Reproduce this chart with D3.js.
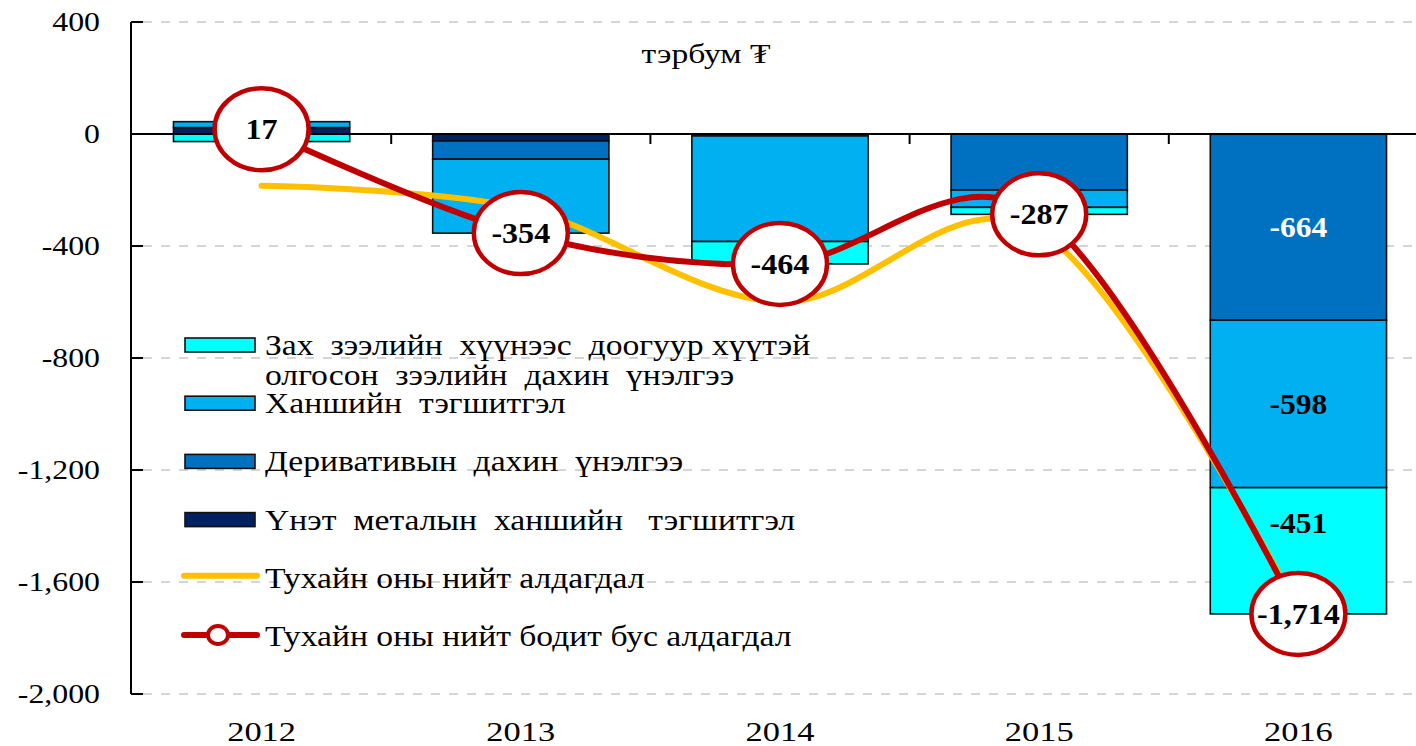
<!DOCTYPE html>
<html><head><meta charset="utf-8">
<script src="https://cdn.jsdelivr.net/npm/d3@7"></script>
<style>
html,body{margin:0;padding:0;background:#fff;}
svg text{font-family:"Liberation Serif","Times New Roman",serif;}
</style></head>
<body><svg id="c" width="1416" height="746"></svg>
<script>
// ---- data ----
const years = ["2012","2013","2014","2015","2016"];
const metalFx = [23, -25, -4, 0, -1];           // Үнэт металын ханшийн тэгшитгэл
const derivReval = [0, -65, -3, -200, -664];     // Деривативын дахин үнэлгээ
const fxEqual = [21, -264, -377, -62, -598];     // Ханшийн тэгшитгэл
const loanReval = [-27, 0, -80, -25, -451];      // Зах зээлийн хүүнээс доогуур хүүтэй олгосон зээлийн дахин үнэлгээ
const totalLoss = [-185, -265, -600, -345, -1700];     // Тухайн оны нийт алдагдал
const unrealLoss = [17, -354, -464, -287, -1714];      // Тухайн оны нийт бодит бус алдагдал
const yTicks = [400, 0, -400, -800, -1200, -1600, -2000];
const insideLabelKeys2016 = ["deriv","fx","loan"];
const insideLabelValues2016 = [-664, -598, -451];
const legendLabels = [
  ["Зах  зээлийн  хүүнээс  доогуур хүүтэй","олгосон  зээлийн  дахин  үнэлгээ"],
  ["Ханшийн  тэгшитгэл"],
  ["Деривативын  дахин  үнэлгээ"],
  ["Үнэт  металын  ханшийн   тэгшитгэл"],
  ["Тухайн оны нийт алдагдал"],
  ["Тухайн оны нийт бодит бус алдагдал"]
];
const unitLabel = "тэрбум ₮";

// ---- setup ----
const colors = {loan:"#00FFFF", fx:"#00B0F0", deriv:"#0070C0", metal:"#002060"};
const keys = ["metal","deriv","fx","loan"];
const table = years.map((y,i)=>({year:y, metal:metalFx[i], deriv:derivReval[i], fx:fxEqual[i], loan:loanReval[i]}));

const svg = d3.select("#c");
const x = d3.scaleBand().domain(years).range([132, 1428]).padding(0);
const y = d3.scaleLinear().domain([-2000, 400]).range([694, 22]);
const axisX = 131;
const barW = x.bandwidth()*0.68;
const cx = d => x(d) + x.bandwidth()/2;
const fmt0 = d3.format(",");
const fmt = v => fmt0(v).replace(/\u2212/g, "-");

function stretchText(g, px, py, str, opts){
  return g.append("text")
    .attr("transform", `translate(${px},${py}) scale(${opts.sx||1},1)`)
    .attr("text-anchor", opts.anchor||"start")
    .attr("font-size", opts.size)
    .attr("font-weight", opts.weight||"normal")
    .attr("fill", opts.fill||"#000")
    .style("white-space","pre")
    .text(str);
}

// gridlines
svg.append("g").selectAll("line").data(yTicks.filter(v=>v!==0)).join("line")
  .attr("x1", axisX+12).attr("x2", 1416)
  .attr("y1", d=>y(d)).attr("y2", d=>y(d))
  .attr("stroke","#c8c8c8").attr("stroke-width",1.5).attr("stroke-dasharray","9,9");

// stacked bars
const series = d3.stack().keys(keys).offset(d3.stackOffsetDiverging)(table);
svg.append("g").selectAll("g").data(series).join("g")
  .attr("fill", s=>colors[s.key])
  .selectAll("rect").data(s=>s.filter(d=>d[1]!==d[0])).join("rect")
  .attr("x", d=>cx(d.data.year)-barW/2)
  .attr("width", barW)
  .attr("y", d=>y(Math.max(d[0],d[1])))
  .attr("height", d=>Math.abs(y(d[0])-y(d[1])))
  .attr("stroke","#111").attr("stroke-width",1.6);

// y axis
const yAxis = svg.append("g");
yAxis.append("line").attr("x1",axisX).attr("x2",axisX).attr("y1",y(400)).attr("y2",y(-2000)).attr("stroke","#000").attr("stroke-width",2);
yAxis.selectAll("line.tk").data(yTicks).join("line").attr("class","tk")
  .attr("x1",axisX).attr("x2",axisX+12).attr("y1",d=>y(d)).attr("y2",d=>y(d)).attr("stroke","#000").attr("stroke-width",2);
yTicks.forEach(v=>{
  stretchText(svg, 100, y(v)+9, fmt(v), {anchor:"end", size:26.5, sx:1.2});
});

// zero line (x axis) with category ticks
svg.append("line").attr("x1",axisX).attr("x2",1416).attr("y1",y(0)).attr("y2",y(0)).attr("stroke","#000").attr("stroke-width",2);
svg.append("g").selectAll("line").data(years.slice(1)).join("line")
  .attr("x1",d=>x(d)).attr("x2",d=>x(d)).attr("y1",y(0)).attr("y2",y(0)+10).attr("stroke","#000").attr("stroke-width",2);

// x labels
years.forEach(yr=>{
  stretchText(svg, cx(yr), 741, yr, {anchor:"middle", size:26.5, sx:1.3});
});

// unit label
stretchText(svg, 706, 63, unitLabel, {anchor:"middle", size:28, sx:1.2});

// lines
const curve = d3.curveCardinal.tension(0);
const line = d3.line().x((d,i)=>cx(years[i])).y(d=>y(d)).curve(curve);
svg.append("path").datum(totalLoss).attr("d", line).attr("fill","none").attr("stroke","#FFC000").attr("stroke-width",6).attr("stroke-linecap","round");
svg.append("path").datum(unrealLoss).attr("d", line).attr("fill","none").attr("stroke","#C00000").attr("stroke-width",6).attr("stroke-linecap","round");

// 2016 inside labels
const s2016 = series.map(s=>({key:s.key, seg:s[4]}));
insideLabelKeys2016.forEach((k,i)=>{
  const seg = s2016.find(s=>s.key===k).seg;
  const mid = (seg[0]+seg[1])/2;
  const shift = k==="loan" ? -28 : 0;
  stretchText(svg, cx("2016"), y(mid)+10+shift, fmt(insideLabelValues2016[i]), {anchor:"middle", size:30, weight:"bold", sx:1.05, fill: k==="deriv" ? "#fff" : "#000"});
});

// circle markers with labels
years.forEach((yr,i)=>{
  svg.append("ellipse").attr("cx",cx(yr)).attr("cy",y(unrealLoss[i])).attr("rx",47).attr("ry",41)
    .attr("fill","#fff").attr("stroke","#C00000").attr("stroke-width",4.5);
  stretchText(svg, cx(yr), y(unrealLoss[i])+10, fmt(unrealLoss[i]), {anchor:"middle", size:30, weight:"bold", sx:1.07});
});

// legend
const lg = svg.append("g");
const legendTypes = ["loan","fx","deriv","metal","yellow","red"];
legendLabels.forEach((lines,i)=>{
  const cy = 345 + i*58.2;
  const t = legendTypes[i];
  if (colors[t]) {
    lg.append("rect").attr("x",185).attr("y",cy-7).attr("width",70).attr("height",14)
      .attr("fill",colors[t]).attr("stroke","#111").attr("stroke-width",1.6);
  } else if (t==="yellow") {
    lg.append("line").attr("x1",184).attr("x2",257).attr("y1",cy-2).attr("y2",cy-2)
      .attr("stroke","#FFC000").attr("stroke-width",6).attr("stroke-linecap","round");
  } else {
    lg.append("line").attr("x1",184).attr("x2",257).attr("y1",cy-1).attr("y2",cy-1)
      .attr("stroke","#C00000").attr("stroke-width",6).attr("stroke-linecap","round");
    lg.append("ellipse").attr("cx",218).attr("cy",cy-1).attr("rx",10).attr("ry",9)
      .attr("fill","#fff").attr("stroke","#C00000").attr("stroke-width",4);
  }
  lines.forEach((ln,j)=>{
    stretchText(lg, 265, cy+10+j*30, ln, {size:29, sx:1.16});
  });
});
</script></body></html>
